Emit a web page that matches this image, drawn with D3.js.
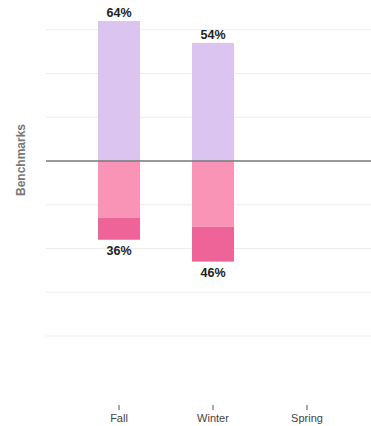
<!DOCTYPE html>
<html>
<head>
<meta charset="utf-8">
<script src="https://cdn.jsdelivr.net/npm/d3@7"></script>
<style>
  html, body { margin: 0; padding: 0; background: #fff; }
  svg { display: block; font-family: "Liberation Sans", Arial, sans-serif; }
</style>
</head>
<body>
<svg id="chart" width="371" height="426"></svg>
<script>
// Seasons on the x axis
const seasons = ["Fall", "Winter", "Spring"];
// Share above benchmark (drawn upward)
const aboveValues = [64, 54, null];
// Share below benchmark: total, and the deeper part of it
const belowValues = [36, 46, null];
const belowDeepValues = [10, 16, null];
// Horizontal guide lines
const gridValues = [60, 40, 20, -20, -40, -60, -80];

const svg = d3.select("#chart");
const left = 46, right = 371;

const x = d3.scaleBand().domain(seasons).range([72, 354]).paddingInner(0.553).paddingOuter(0.2766);
const y = d3.scaleLinear().domain([0, 64]).range([161, 21]);

const colAbove = "#dcc4f0";
const colBelow = "#f994b6";
const colDeep = "#ef6498";

// grid
svg.append("g").selectAll("line").data(gridValues).join("line")
  .attr("x1", left).attr("x2", right)
  .attr("y1", d => y(d)).attr("y2", d => y(d))
  .attr("stroke", "#ededed").attr("stroke-width", 1.2);

const bw = x.bandwidth();
const rows = seasons.map((s, i) => ({ s, up: aboveValues[i], down: belowValues[i], deep: belowDeepValues[i] }))
  .filter(d => d.up != null);

const g = svg.append("g");
// above segment
g.selectAll("rect.up").data(rows).join("rect").attr("class", "up")
  .attr("x", d => x(d.s)).attr("width", bw)
  .attr("y", d => y(d.up)).attr("height", d => y(0) - y(d.up))
  .attr("fill", colAbove);
// lighter below segment
g.selectAll("rect.down").data(rows).join("rect").attr("class", "down")
  .attr("x", d => x(d.s)).attr("width", bw)
  .attr("y", y(0)).attr("height", d => y(-(d.down - d.deep)) - y(0))
  .attr("fill", colBelow);
// deeper below segment
g.selectAll("rect.deep").data(rows).join("rect").attr("class", "deep")
  .attr("x", d => x(d.s)).attr("width", bw)
  .attr("y", d => y(-(d.down - d.deep))).attr("height", d => y(-d.down) - y(-(d.down - d.deep)))
  .attr("fill", colDeep);

// value labels
g.selectAll("text.up").data(rows).join("text").attr("class", "up")
  .attr("x", d => x(d.s) + bw / 2).attr("y", d => y(d.up) - 4)
  .attr("text-anchor", "middle").attr("font-size", 12.5).attr("font-weight", "bold").attr("fill", "#222")
  .text(d => d.up + "%");
g.selectAll("text.down").data(rows).join("text").attr("class", "down")
  .attr("x", d => x(d.s) + bw / 2).attr("y", d => y(-d.down) + 15)
  .attr("text-anchor", "middle").attr("font-size", 12.5).attr("font-weight", "bold").attr("fill", "#222")
  .text(d => d.down + "%");

// zero line
svg.append("line").attr("x1", left).attr("x2", right)
  .attr("y1", y(0)).attr("y2", y(0))
  .attr("stroke", "#777").attr("stroke-width", 1.6);

// x axis
const xAxis = svg.append("g").attr("transform", "translate(0,405)")
  .call(d3.axisBottom(x).tickSize(5).tickPadding(4));
xAxis.select(".domain").remove();
xAxis.selectAll(".tick line").attr("stroke", "#555");
xAxis.selectAll(".tick text").attr("fill", "#444").attr("font-size", 11)
  .attr("font-family", "'Liberation Sans', Arial, sans-serif");

// y axis title
svg.append("text")
  .attr("transform", "translate(25,160) rotate(-90)")
  .attr("text-anchor", "middle").attr("font-size", 12).attr("font-weight", "bold").attr("fill", "#777")
  .text("Benchmarks");
</script>
</body>
</html>
